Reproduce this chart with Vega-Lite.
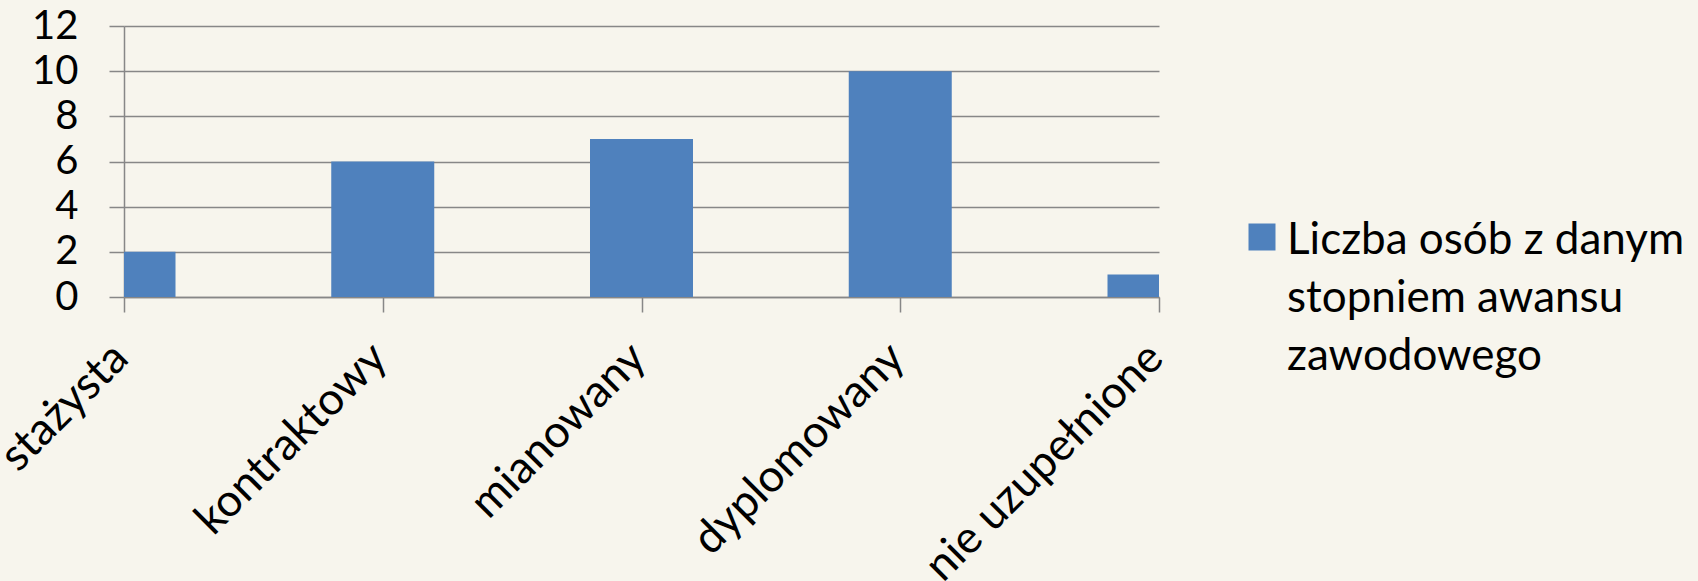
{
  "$schema": "https://vega.github.io/schema/vega-lite/v6.json",
  "autosize": {"type": "none"},
  "width": 1035,
  "height": 271,
  "padding": {"left": 124, "top": 26, "right": 539, "bottom": 284},
  "background": "#f7f5ed",
  "data": {
    "values": [
      {"stopien": "stażysta", "liczba": 2, "seria": "Liczba osób z danym stopniem awansu zawodowego"},
      {"stopien": "kontraktowy", "liczba": 6, "seria": "Liczba osób z danym stopniem awansu zawodowego"},
      {"stopien": "mianowany", "liczba": 7, "seria": "Liczba osób z danym stopniem awansu zawodowego"},
      {"stopien": "dyplomowany", "liczba": 10, "seria": "Liczba osób z danym stopniem awansu zawodowego"},
      {"stopien": "nie uzupełnione", "liczba": 1, "seria": "Liczba osób z danym stopniem awansu zawodowego"}
    ]
  },
  "mark": {"type": "bar", "size": 103, "clip": true},
  "encoding": {
    "x": {
      "field": "stopien",
      "type": "nominal",
      "sort": null,
      "scale": {"type": "point", "padding": 0},
      "axis": {
        "title": null,
        "labelAngle": -45,
        "labelAlign": "right",
        "labelBaseline": "middle",
        "labelFontSize": 45,
        "labelPadding": 51,
        "labelOffset": 9,
        "labelLimit": 1000,
        "labelLineHeight": 30,
        "labelOverlap": false,
        "tickSize": 15,
        "grid": false
      }
    },
    "y": {
      "field": "liczba",
      "type": "quantitative",
      "scale": {"domain": [0, 12], "nice": false},
      "axis": {
        "title": null,
        "values": [0, 2, 4, 6, 8, 10, 12],
        "labelFontSize": 40,
        "tickSize": 15,
        "labelPadding": 31,
        "labelOffset": 18,
        "labelLineHeight": 30,
        "labelOverlap": false,
        "grid": true
      }
    },
    "color": {
      "field": "seria",
      "type": "nominal",
      "scale": {"range": ["#4f81bd"]},
      "legend": {
        "title": null,
        "orient": "none",
        "legendX": 1116,
        "legendY": 189,
        "symbolType": "square",
        "symbolSize": 729,
        "symbolStrokeWidth": 0,
        "symbolOpacity": 1,
        "labelOffset": 3,
        "labelFontSize": 44,
        "labelLimit": 600,
        "labelBaseline": "top",
        "labelExpr": "['Liczba osób z danym', 'stopniem awansu', 'zawodowego']"
      }
    }
  },
  "config": {
    "font": "Lato",
    "view": {"stroke": null},
    "style": {"guide-label": {"lineHeight": 58, "dy": -18}},
    "axis": {
      "labelFont": "Lato",
      "labelColor": "#000000",
      "domainColor": "#878787",
      "domainWidth": 1.5,
      "tickColor": "#878787",
      "tickWidth": 1.5,
      "gridColor": "#878787",
      "gridWidth": 1.5
    },
    "legend": {"labelFont": "Lato", "labelColor": "#000000"}
  }
}
